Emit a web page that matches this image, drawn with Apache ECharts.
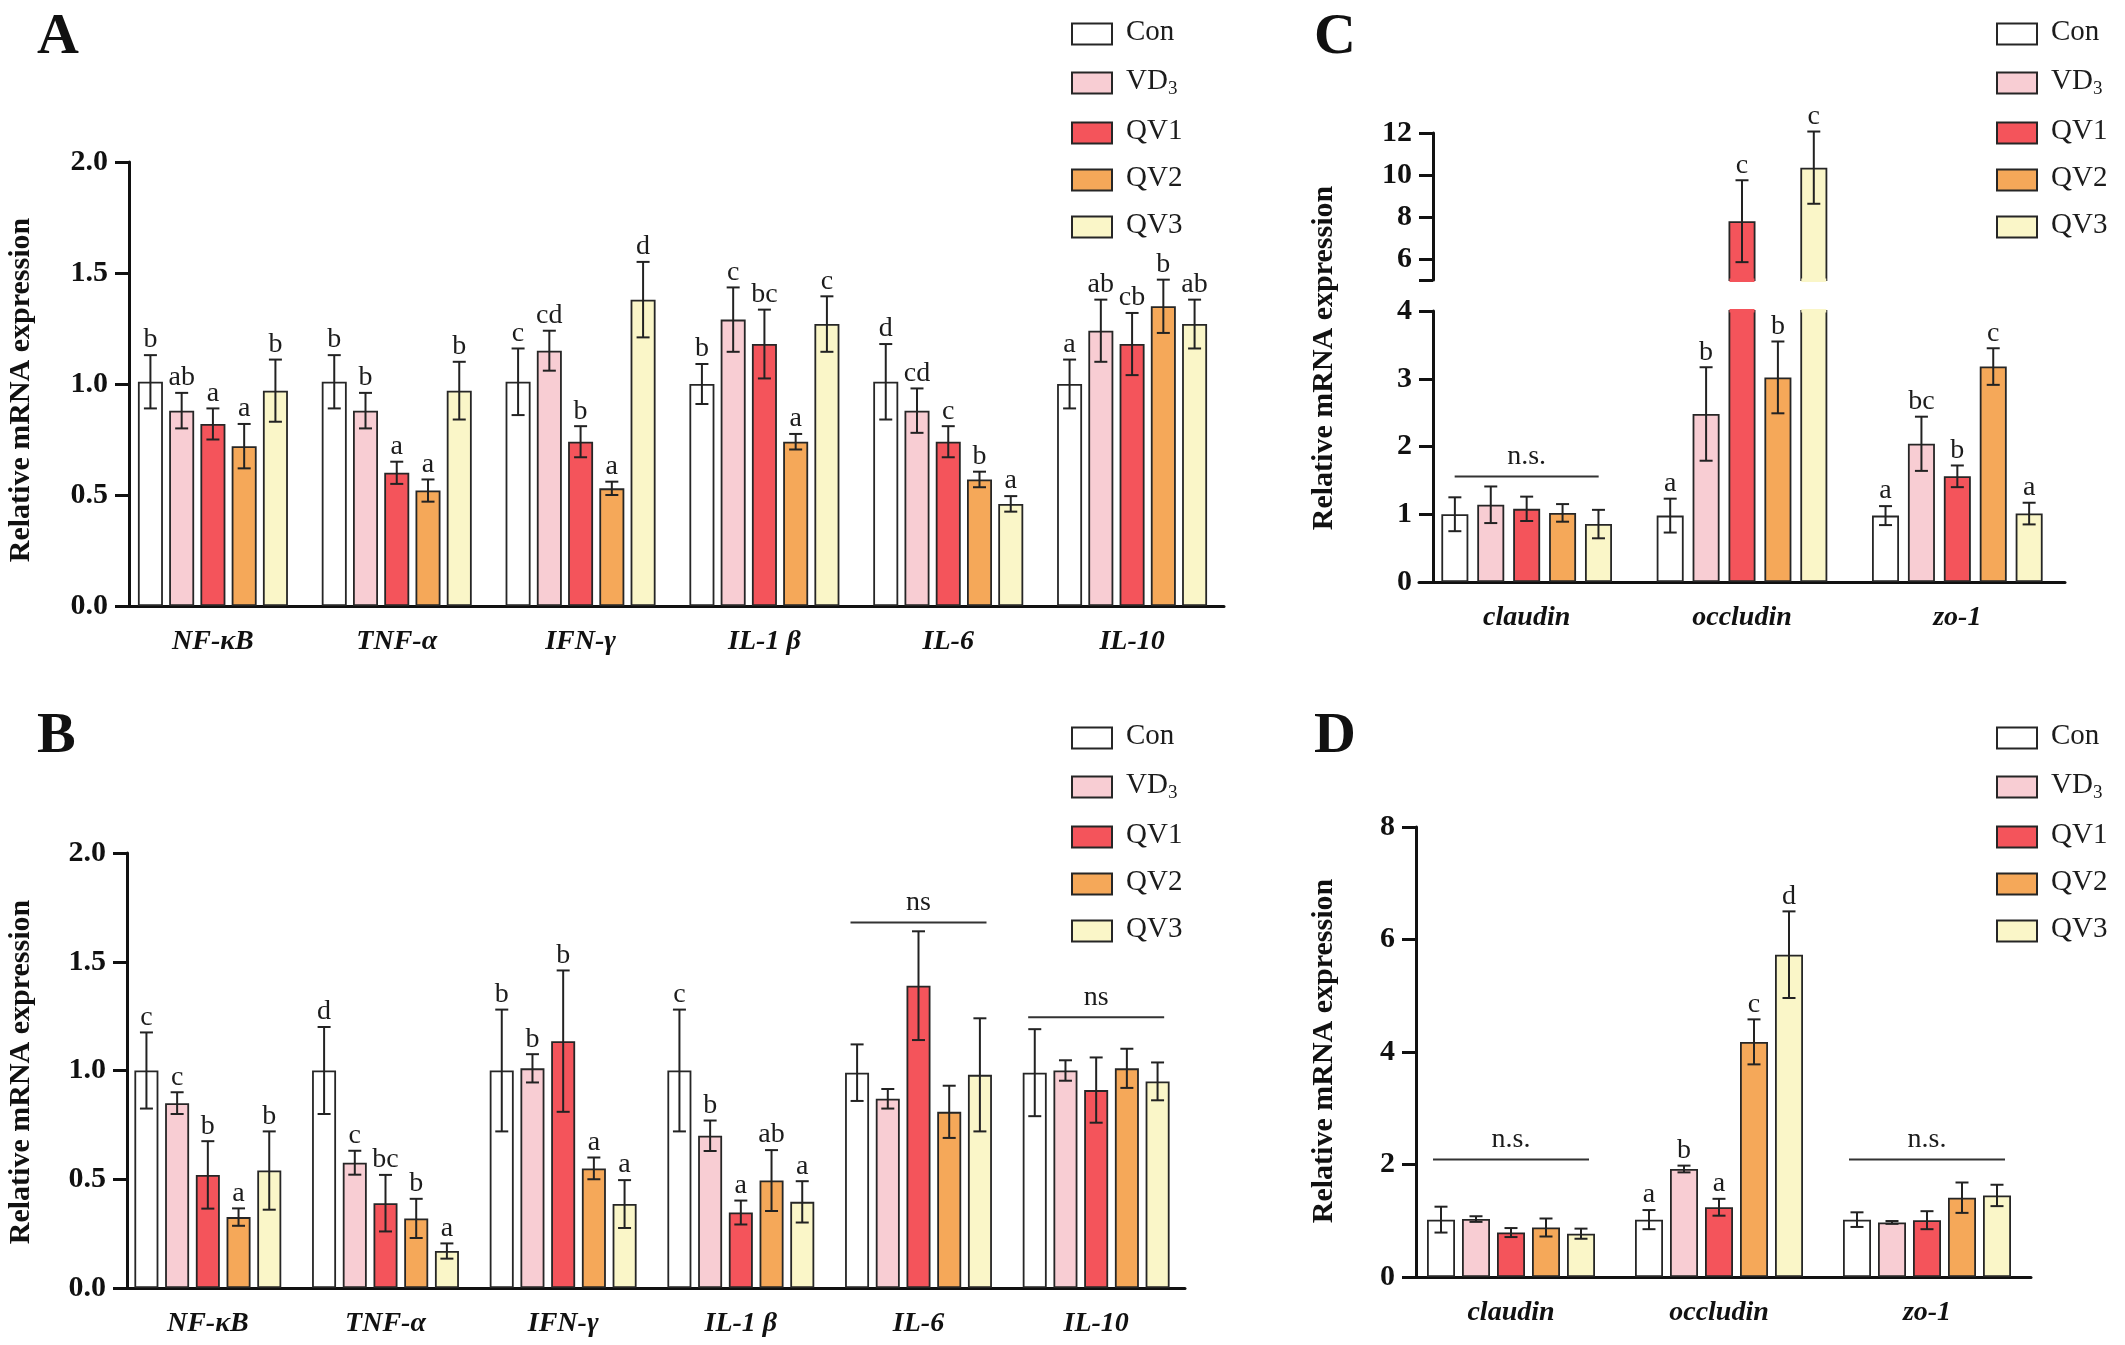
<!DOCTYPE html>
<html>
<head>
<meta charset="utf-8">
<script src="https://cdn.jsdelivr.net/npm/echarts@6/dist/echarts.min.js"></script>
<style>html,body{margin:0;padding:0;background:#fff}#main{width:2125px;height:1345px}</style>
</head>
<body>
<div id="main"></div>
<script>
// 分组与颜色
var groups = ['Con', 'VD3', 'QV1', 'QV2', 'QV3'];
var colors = ['#ffffff', '#f8cdd3', '#f4545b', '#f5a859', '#faf6c8'];
var cytoGenes = ['NF-κB', 'TNF-α', 'IFN-γ', 'IL-1 β', 'IL-6', 'IL-10'];
var tjGenes = ['claudin', 'occludin', 'zo-1'];

// A：每行一个分组（Con, VD3, QV1, QV2, QV3）
var aMean = [
	[1.01, 1.01, 1.01, 1.00, 1.01, 1.00],
	[0.88, 0.88, 1.15, 1.29, 0.88, 1.24],
	[0.82, 0.60, 0.74, 1.18, 0.74, 1.18],
	[0.72, 0.52, 0.53, 0.74, 0.57, 1.35],
	[0.97, 0.97, 1.38, 1.27, 0.46, 1.27]
];
var aErr = [
	[0.12, 0.12, 0.15, 0.09, 0.17, 0.11],
	[0.08, 0.08, 0.09, 0.145, 0.10, 0.14],
	[0.07, 0.05, 0.07, 0.155, 0.07, 0.14],
	[0.10, 0.05, 0.03, 0.035, 0.035, 0.12],
	[0.14, 0.13, 0.17, 0.125, 0.035, 0.11]
];
var aLetters = [
	['b', 'b', 'c', 'b', 'd', 'a'],
	['ab', 'b', 'cd', 'c', 'cd', 'ab'],
	['a', 'a', 'b', 'bc', 'c', 'cb'],
	['a', 'a', 'a', 'a', 'b', 'b'],
	['b', 'b', 'd', 'c', 'a', 'ab']
];

// B
var bMean = [
	[1.00, 1.00, 1.00, 1.00, 0.99, 0.99],
	[0.85, 0.576, 1.01, 0.70, 0.87, 1.00],
	[0.52, 0.39, 1.135, 0.347, 1.39, 0.91],
	[0.326, 0.32, 0.55, 0.494, 0.81, 1.01],
	[0.54, 0.17, 0.386, 0.396, 0.98, 0.95]
];
var bErr = [
	[0.175, 0.20, 0.28, 0.28, 0.13, 0.20],
	[0.05, 0.055, 0.065, 0.07, 0.045, 0.047],
	[0.155, 0.13, 0.325, 0.055, 0.25, 0.15],
	[0.04, 0.09, 0.05, 0.14, 0.12, 0.09],
	[0.18, 0.035, 0.11, 0.095, 0.26, 0.087]
];
var bLetters = [
	['c', 'd', 'b', 'c', '', ''],
	['c', 'c', 'b', 'b', '', ''],
	['b', 'bc', 'b', 'a', '', ''],
	['a', 'b', 'a', 'ab', '', ''],
	['b', 'a', 'a', 'a', '', '']
];
var bNs = [[4, 1.68], [5, 1.245]];

// C
var cMean = [
	[1.00, 0.98, 0.98],
	[1.14, 2.48, 2.04],
	[1.08, 7.80, 1.56],
	[1.02, 3.02, 3.18],
	[0.855, 10.35, 1.01]
];
var cErr = [
	[0.25, 0.25, 0.14],
	[0.27, 0.69, 0.40],
	[0.18, 1.95, 0.16],
	[0.13, 0.53, 0.27],
	[0.21, 1.72, 0.16]
];
var cLetters = [
	['', 'a', 'a'],
	['', 'b', 'bc'],
	['', 'c', 'b'],
	['', 'b', 'c'],
	['', 'c', 'a']
];
var cNs = [[0, 1.556]];

// D
var dMean = [
	[1.02, 1.02, 1.02],
	[1.03, 1.92, 0.97],
	[0.79, 1.24, 1.01],
	[0.88, 4.18, 1.41],
	[0.77, 5.73, 1.45]
];
var dErr = [
	[0.23, 0.17, 0.13],
	[0.05, 0.06, 0.025],
	[0.08, 0.15, 0.16],
	[0.16, 0.40, 0.27],
	[0.09, 0.77, 0.19]
];
var dLetters = [
	['', 'a', ''],
	['', 'b', ''],
	['', 'a', ''],
	['', 'c', ''],
	['', 'd', '']
];
var dNs = [[0, 2.09], [2, 2.09]];

var font = 'Liberation Serif';
var ink = '#1c1c1c';

var series = [];

// 柱子
function addBars(means, xi, yi, bw, gap, keep) {
	for (var g = 0; g < groups.length; g++) {
		series.push({
			type: 'bar',
			name: groups[g],
			xAxisIndex: xi,
			yAxisIndex: yi,
			barWidth: bw,
			barGap: gap,
			clip: true,
			z: 2,
			itemStyle: {color: colors[g], borderColor: '#262626', borderWidth: 1.8},
			data: means[g].map(function (v) { return keep(v) ? v : '-'; })
		});
	}
}

// 误差线 + 显著性字母；cut: 'top' / 'bottom' 表示断轴处把截断的边框盖掉
function addErrors(means, errs, letters, xi, yi, step, bw, keep, cut) {
	for (var g = 0; g < groups.length; g++) {
		(function (g) {
			var off = (g - 2) * step;
			var data = [];
			for (var c = 0; c < means[g].length; c++) data.push([c, means[g][c], errs[g][c]]);
			series.push({
				type: 'custom',
				xAxisIndex: xi,
				yAxisIndex: yi,
				z: 5,
				silent: true,
				encode: {x: 0, y: 1},
				data: data,
				renderItem: function (params, api) {
					var c = api.value(0), m = api.value(1), e = api.value(2);
					var ch = [];
					var cs = params.coordSys;
					var bx = api.coord([c, 0])[0] + off;
					if (cut === 'top' && m > 4) {
						ch.push({type: 'rect', shape: {x: bx - bw / 2 + 1, y: cs.y - 2, width: bw - 2, height: 3.5},
							style: {fill: colors[g]}});
					}
					if (cut === 'bottom' && m > 5) {
						ch.push({type: 'rect', shape: {x: bx - bw / 2 + 1, y: cs.y + cs.height - 1.5, width: bw - 2, height: 3.5},
							style: {fill: colors[g]}});
					}
					if (keep(m)) {
						var p1 = api.coord([c, m + e]);
						var p0 = api.coord([c, m - e]);
						var x = p1[0] + off;
						var st = {stroke: '#222', lineWidth: 2};
						ch.push(
							{type: 'line', shape: {x1: x, y1: p1[1], x2: x, y2: p0[1]}, style: st},
							{type: 'line', shape: {x1: x - 6.5, y1: p1[1], x2: x + 6.5, y2: p1[1]}, style: st},
							{type: 'line', shape: {x1: x - 6.5, y1: p0[1], x2: x + 6.5, y2: p0[1]}, style: st}
						);
						var t = letters[g][params.dataIndex];
						if (t) {
							ch.push({type: 'text', x: x, y: p1[1] - 1,
								style: {text: t, font: '28px "' + font + '"', fill: ink, align: 'center', verticalAlign: 'bottom'}});
						}
					}
					return {type: 'group', children: ch};
				}
			});
		})(g);
	}
}

// n.s. 横线
function addNs(items, label, xi, yi, half) {
	series.push({
		type: 'custom',
		xAxisIndex: xi,
		yAxisIndex: yi,
		z: 5,
		silent: true,
		encode: {x: 0, y: 1},
		data: items,
		renderItem: function (params, api) {
			var p = api.coord([api.value(0), api.value(1)]);
			return {type: 'group', children: [
				{type: 'line', shape: {x1: p[0] - half, y1: p[1], x2: p[0] + half, y2: p[1]}, style: {stroke: '#333', lineWidth: 2}},
				{type: 'text', x: p[0], y: p[1] - 6,
					style: {text: label, font: '28px "' + font + '"', fill: ink, align: 'center', verticalAlign: 'bottom'}}
			]};
		}
	});
}

var all = function () { return true; };

addBars(aMean, 0, 0, 25, '25%', all);
addErrors(aMean, aErr, aLetters, 0, 0, 31.25, 25, all);

addBars(bMean, 1, 1, 24, '28%', all);
addErrors(bMean, bErr, bLetters, 1, 1, 30.7, 24, all);
addNs(bNs, 'ns', 1, 1, 68);

// C 断轴：下半 0-4，上半 5-12
addBars(cMean, 2, 2, 27, '33%', all);
addErrors(cMean, cErr, cLetters, 2, 2, 35.9, 27, function (m) { return m < 5; }, 'top');
addNs(cNs, 'n.s.', 2, 2, 72);
addBars(cMean, 3, 3, 27, '33%', function (v) { return v > 5; });
addErrors(cMean, cErr, cLetters, 3, 3, 35.9, 27, function (m) { return m > 5; }, 'bottom');

addBars(dMean, 4, 4, 28, '25%', all);
addErrors(dMean, dErr, dLetters, 4, 4, 35, 28, all);
addNs(dNs, 'n.s.', 4, 4, 78);

var axisLineSt = {lineStyle: {color: '#111', width: 3}};
var tickSt = {lineStyle: {color: '#111', width: 3}};

function xAxisOf(gi, cats, show) {
	return {
		type: 'category', gridIndex: gi, data: cats, show: show,
		axisLine: axisLineSt,
		axisTick: {alignWithLabel: true, length: 16, lineStyle: tickSt.lineStyle},
		axisLabel: {margin: 22, fontFamily: font, fontWeight: 'bold', fontStyle: 'italic', fontSize: 28, color: '#111'}
	};
}

function yAxisOf(gi, min, max, interval, offset, fmt) {
	return {
		type: 'value', gridIndex: gi, min: min, max: max, interval: interval, offset: offset,
		axisLine: {show: true, lineStyle: axisLineSt.lineStyle},
		axisTick: {show: true, length: 14, lineStyle: tickSt.lineStyle},
		splitLine: {show: false},
		axisLabel: {margin: 21, fontFamily: font, fontWeight: 'bold', fontSize: 30, color: '#111', formatter: fmt}
	};
}

var oneDec = function (v) { return v.toFixed(1); };

var upperY = yAxisOf(3, 5, 12, 1, -14);
upperY.axisTick.customValues = [5, 6, 8, 10, 12];
upperY.axisLabel.customValues = [6, 8, 10, 12];

function legendAt(left, top) {
	return {
		orient: 'vertical', left: left, top: top,
		itemWidth: 40, itemHeight: 21, itemGap: 18,
		icon: 'rect', selectedMode: false, data: groups,
		formatter: function (n) {
			return n === 'VD3' ? '{g| }{n|VD}{s|3}' : '{g| }{n|' + n + '}';
		},
		textStyle: {
			rich: {
				g: {width: 9, lineHeight: 32},
				n: {fontSize: 29, fontFamily: font, color: ink, lineHeight: 32, verticalAlign: 'top'},
				s: {fontSize: 19, fontFamily: font, color: ink, lineHeight: 19, padding: [15, 0, 0, 0], verticalAlign: 'bottom'}
			}
		}
	};
}

function panelLabel(t, x, y) {
	return {type: 'text', x: x, y: y, style: {text: t, font: 'bold 58px "' + font + '"', fill: '#111', align: 'left', verticalAlign: 'bottom'}};
}

function yTitle(x, y) {
	return {type: 'text', x: x, y: y, rotation: Math.PI / 2,
		style: {text: 'Relative mRNA expression', font: 'bold 30px "' + font + '"', fill: '#111', align: 'center', verticalAlign: 'middle'}};
}

var option = {
	animation: false,
	backgroundColor: '#fff',
	legend: [legendAt(1066, 13), legendAt(1066, 717), legendAt(1991, 13), legendAt(1991, 717)],
	grid: [
		{left: 121, top: 162, width: 1103, height: 444},
		{left: 119, top: 853, width: 1066, height: 435},
		{left: 1419, top: 311, width: 646, height: 271},
		{left: 1419, top: 133, width: 646, height: 147},
		{left: 1407, top: 827, width: 624, height: 450}
	],
	xAxis: [
		xAxisOf(0, cytoGenes, true),
		xAxisOf(1, cytoGenes, true),
		xAxisOf(2, tjGenes, true),
		xAxisOf(3, tjGenes, false),
		xAxisOf(4, tjGenes, true)
	],
	yAxis: [
		yAxisOf(0, 0, 2, 0.5, -8, oneDec),
		yAxisOf(1, 0, 2, 0.5, -8, oneDec),
		yAxisOf(2, 0, 4, 1, -14),
		upperY,
		yAxisOf(4, 0, 8, 2, -9)
	],
	graphic: [
		panelLabel('A', 37, 67),
		panelLabel('B', 37, 766),
		panelLabel('C', 1314, 67),
		panelLabel('D', 1314, 766),
		yTitle(21, 390),
		yTitle(21, 1072),
		yTitle(1324, 358),
		yTitle(1324, 1051)
	],
	series: series
};

var myChart = echarts.init(document.getElementById('main'));
myChart.setOption(option);
</script>
</body>
</html>
